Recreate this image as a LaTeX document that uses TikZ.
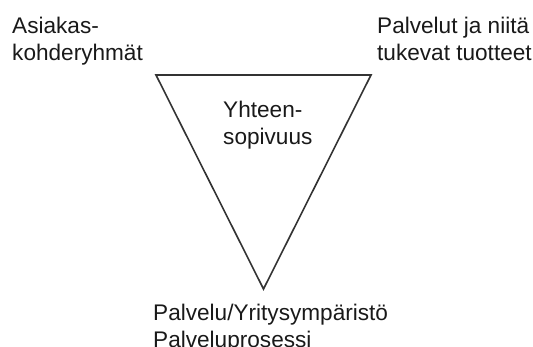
\documentclass[tikz,border=0pt]{standalone}
\usepackage{fontspec}
\setmainfont{Liberation Sans}
\begin{document}
\begin{tikzpicture}[x=1pt,y=-1pt,
  lbl/.style={inner sep=0pt, anchor=base west, align=left, text=black!90,
    font=\fontsize{22.6}{27}\selectfont},
  tri/.style={draw=black!80, line width=1.6pt, line join=miter}]
\useasboundingbox (0,0) rectangle (533,347);
\coordinate (tl) at (156,75);
\coordinate (tr) at (371,75);
\coordinate (bt) at (263.5,289);
\draw[tri] (tl) -- (tr) -- (bt) -- cycle;
% base anchor = baseline of the last line
\node[lbl] (asiakas) at (12,60.5) {Asiakas-\\kohderyhmät};
\node[lbl] (palvelut) at (377,60.5) {Palvelut ja niitä\\tukevat tuotteet};
\node[lbl] (yhteen) at (223,145) {Yhteen-\\sopivuus};
\node[lbl] (prosessi) at (153,348) {Palvelu/Yritysympäristö\\Palveluprosessi};
\end{tikzpicture}
\end{document}
